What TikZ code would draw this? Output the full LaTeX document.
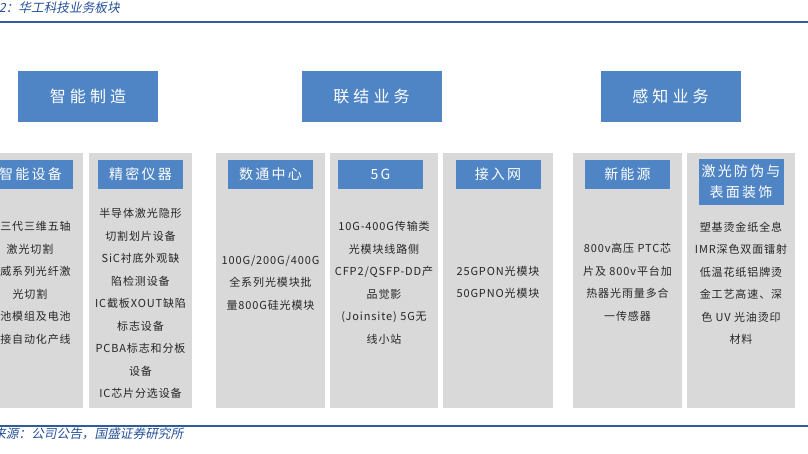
\documentclass[tikz,border=0pt]{standalone}
\usepackage{fontspec}
\setmainfont{Noto Sans CJK SC}
\newfontfamily\bodyfont[LetterSpace=8]{Noto Sans CJK SC}
\newfontfamily\headfont[LetterSpace=16]{Noto Sans CJK SC}
\newfontfamily\catfont[LetterSpace=26]{Noto Sans CJK SC}
\newfontfamily\notefont[FakeSlant=0.2]{Noto Sans CJK SC}
\usetikzlibrary{positioning}
\definecolor{catblue}{HTML}{4F85C5}
\definecolor{panelbg}{HTML}{D9D9D9}
\definecolor{rule}{HTML}{2E5C9F}
\definecolor{notetxt}{HTML}{24519A}
\definecolor{ink}{HTML}{262626}
\tikzset{
  catbox/.style={fill=catblue,text=white,minimum width=105pt,
                 minimum height=38.25pt,inner sep=0pt,
                 font=\catfont\fontsize{12}{14}\selectfont},
  panel/.style={fill=panelbg,minimum height=191.25pt,inner sep=0pt},
  headbox/.style={fill=catblue,text=white,minimum width=63.75pt,
                  minimum height=21.75pt,inner sep=0pt,align=center,
                  font=\headfont\fontsize{10.5}{15.75}\selectfont},
  bodytext/.style={text=ink,align=center,inner sep=0pt,
                   font=\bodyfont\fontsize{8.25}{16.875}\selectfont},
  note/.style={text=notetxt,inner sep=0pt,anchor=west,
               font=\notefont\fontsize{9.5}{11}\selectfont},
}

\begin{document}
\begin{tikzpicture}[x=0.75pt,y=-0.75pt]
  % page: 808 x 454 px, y grows downward
  \clip (0,0) rectangle (808,454);

  % Caption and rules
  \node[note] (title) at (-1.5,8) {2：华工科技业务板块};
  \draw[rule,line width=1.5pt] (0,21.5) -- (808,21.5);
  \draw[rule,line width=1.5pt] (0,425.5) -- (808,425.5);
  \node[note] (src) at (-7,434) {来源：公司公告，国盛证券研究所};

  % Business segments
  \node[catbox] (catA) at (88,96.5) {智能制造};
  \node[catbox] (catB) at (371.5,96.5) {联结业务};
  \node[catbox] (catC) at (670.5,96.5) {感知业务};

  % Grey panels
  \foreach \nm/\cx/\w in {A/28.5/109,B/140.5/103,C/270.5/109,D/384/108,
                          E/498/110,F/627.5/109,G/741/108}{
    \node[panel,minimum width=\w*0.75pt] (p\nm) at (\cx,280.5) {};
  }

  % Panel headers
  \node[headbox,below=5.25pt of pA.north,xshift=1.5pt] (hA) {智能设备};
  \node[headbox,below=5.25pt of pB.north] (hB) {精密仪器};
  \node[headbox,below=5.25pt of pC.north] (hC) {数通中心};
  \node[headbox,below=5.25pt of pD.north,xshift=-2.6pt] (hD) {5G};
  \node[headbox,below=5.25pt of pE.north] (hE) {接入网};
  \node[headbox,below=5.25pt of pF.north] (hF) {新能源};
  \node[headbox,below=4.5pt of pG.north,minimum height=34.5pt] (hG)
    {激光防伪与\\表面装饰};

  % Panel contents
  \node[bodytext] (tA) at (30,282.7)
    {\hphantom{第}三代三维五轴\\激光切割\\\hphantom{第}威系列光纤激\\光切割\\
     \hphantom{第}池模组及电池\\\hphantom{第}接自动化产线};
  \node[bodytext] (tB) at (140.5,303.5)
    {半导体激光隐形\\切割划片设备\\SiC衬底外观缺\\陷检测设备\\IC截板XOUT缺陷\\
     标志设备\\PCBA标志和分板\\设备\\IC芯片分选设备};
  \node[bodytext] (tC) at (270.5,282.7)
    {100G/200G/400G\\全系列光模块批\\量800G硅光模块};
  \node[bodytext] (tD) at (384,283)
    {10G-400G传输类\\光模块线路侧\\CFP2/QSFP-DD产\\品觉影\\(Joinsite) 5G无\\线小站};
  \node[bodytext] (tE) at (498,282.5) {25GPON光模块\\50GPNO光模块};
  \node[bodytext] (tF) at (627.5,282.5)
    {800v高压 PTC芯\\片及 800v平台加\\热器光雨量多合\\一传感器};
  \node[bodytext] (tG) at (741,283)
    {塑基烫金纸全息\\IMR深色双面镭射\\低温花纸铝牌烫\\金工艺高速、深\\
     色 UV 光油烫印\\材料};
\end{tikzpicture}
\end{document}
